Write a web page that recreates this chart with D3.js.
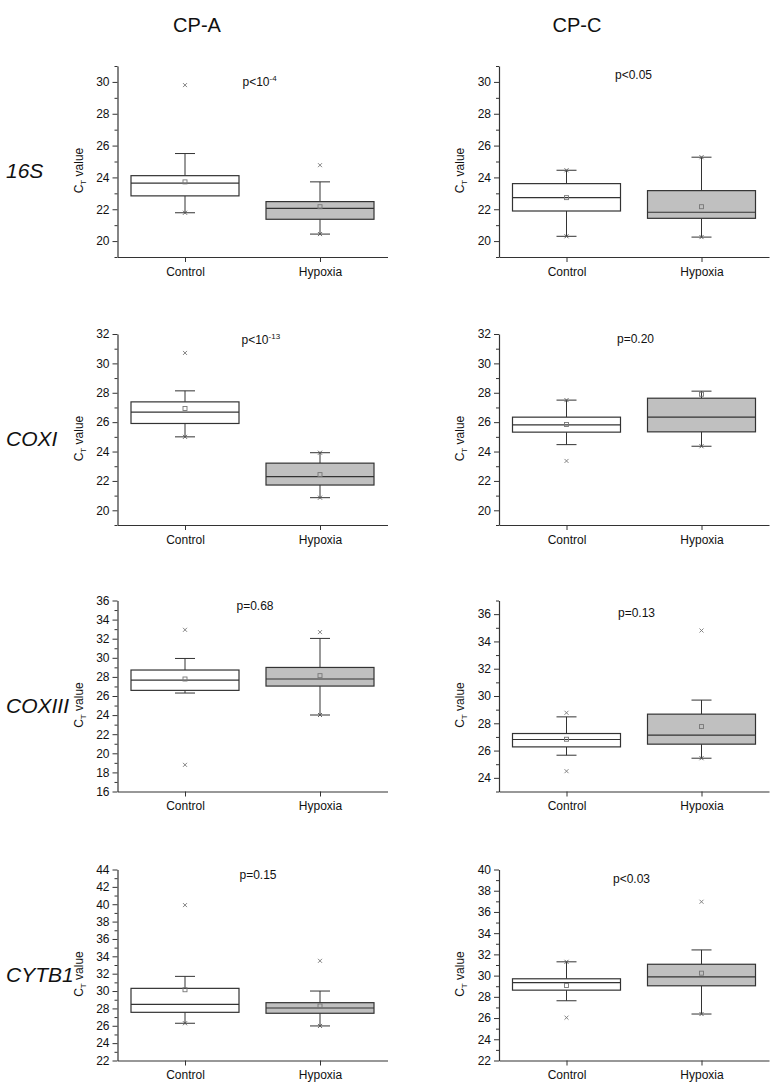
<!DOCTYPE html>
<html>
<head>
<meta charset="utf-8">
<script src="https://cdn.jsdelivr.net/npm/d3@7"></script>
<style>
  html, body { margin: 0; padding: 0; background: #fff; }
  svg { display: block; }
  text { font-family: "Liberation Sans", Arial, sans-serif; fill: #111; }
</style>
</head>
<body>
<svg id="chart" width="773" height="1087"></svg>
<script>
// ---------------- DATA ----------------
const columns = ["CP-A", "CP-C"];
const genes = ["16S", "COXI", "COXIII", "CYTB1"];
const categories = ["Control", "Hypoxia"];

// panel order: row-major (16S CP-A, 16S CP-C, COXI CP-A, COXI CP-C, ...)
const pTexts = ["p<10^-4", "p<0.05", "p<10^-13", "p=0.20", "p=0.68", "p=0.13", "p=0.15", "p<0.03"];

const yDomains = [[19, 31], [19, 31], [19, 32], [19, 32], [16, 36], [23, 37], [22, 44], [22, 40]];

// each entry: [Control, Hypoxia]
const whiskerLow  = [[21.78, 20.44], [20.30, 20.25], [25.00, 20.86], [24.47, 24.36], [26.31, 24.01], [25.66, 25.44], [26.29, 25.98], [27.63, 26.38]];
const quartile1   = [[22.84, 21.37], [21.89, 21.43], [25.91, 21.72], [25.32, 25.34], [26.59, 27.04], [26.27, 26.47], [27.55, 27.44], [28.63, 29.04]];
const medians     = [[23.64, 22.06], [22.73, 21.81], [26.68, 22.29], [25.81, 26.34], [27.67, 27.78], [26.81, 27.13], [28.47, 28.05], [29.33, 29.89]];
const quartile3   = [[24.11, 22.48], [23.61, 23.17], [27.38, 23.21], [26.34, 27.63], [28.72, 28.99], [27.25, 28.67], [30.31, 28.66], [29.70, 31.07]];
const whiskerHigh = [[25.50, 23.72], [24.45, 25.27], [28.13, 23.92], [27.50, 28.11], [29.93, 32.03], [28.47, 29.70], [31.69, 30.00], [31.30, 32.42]];
const means       = [[23.72, 22.16], [22.73, 22.16], [26.93, 22.43], [25.84, 27.90], [27.78, 28.13], [26.83, 27.76], [30.15, 28.28], [29.07, 30.23]];
const outliers    = [[[29.80], [24.77]], [[], []], [[30.71], []], [[23.36], []],
                     [[32.93, 18.79], [32.69]], [[28.77, 24.49], [34.80]], [[39.90], [33.48]], [[26.04], [36.96]]];
// extreme-value markers that sit on whisker ends
const extremes    = [[[21.78], [20.44]], [[24.45, 20.30], [25.27, 20.25]], [[25.00], [23.92, 20.86]], [[27.50], [24.36]],
                     [[], [24.01]], [[], [25.44]], [[26.29], [25.98]], [[31.30], [26.38]]];

// ---------------- LAYOUT ----------------
const colLeft = [117.5, 499];
const rowTop = [66, 334, 600.5, 869.5];
const plotW = 270, plotH = 191;
const boxFill = ["#ffffff", "#c0c0c0"];
const pOffset = [[125, 20], [116, 13], [124, 10], [118, 9], [119, 9], [119, 16], [122, 9], [114, 13]];

const svg = d3.select("#chart");
svg.append("rect").attr("width", 773).attr("height", 1087).attr("fill", "#fff");

// column headers
columns.forEach((c, ci) => {
  svg.append("text")
    .attr("x", [197, 577][ci]).attr("y", 32)
    .attr("text-anchor", "middle")
    .style("font-family", "'Liberation Sans Narrow', 'Arial Narrow', 'Liberation Sans', sans-serif")
    .style("font-size", "20px")
    .text(c);
});

// row labels
genes.forEach((g, ri) => {
  svg.append("text")
    .attr("x", 6).attr("y", rowTop[ri] + 112)
    .style("font-size", "21px").style("font-style", "italic")
    .text(g);
});

function addRichText(sel, str, baseSize, supSize) {
  const parts = str.split("^");
  sel.append("tspan").style("font-size", baseSize + "px").text(parts[0]);
  if (parts[1]) {
    sel.append("tspan").attr("dy", -5).style("font-size", supSize + "px").text(parts[1]);
  }
}

function cross(g, cx, cy, s, color) {
  g.append("path").attr("d", `M${cx - s},${cy - s}L${cx + s},${cy + s}M${cx - s},${cy + s}L${cx + s},${cy - s}`)
    .attr("stroke", color).attr("stroke-width", 0.9).attr("fill", "none");
}

for (let p = 0; p < 8; p++) {
  const ri = Math.floor(p / 2), ci = p % 2;
  const g = svg.append("g").attr("transform", `translate(${colLeft[ci]},${rowTop[ri]})`);
  const x = d3.scaleLinear().domain([0.5, 2.5]).range([0, plotW]);
  const y = d3.scaleLinear().domain(yDomains[p]).range([plotH, 0]);
  const [d0, d1] = yDomains[p];
  const major = d3.range(Math.ceil(d0 / 2) * 2, d1 + 0.001, 2);
  const minor = d3.range(d0, d1 + 0.001, 1).filter(v => v % 2 !== 0);

  // y axis minor
  const yMinor = g.append("g").call(d3.axisLeft(y).tickValues(minor).tickSize(3).tickFormat("").tickSizeOuter(0));
  yMinor.select(".domain").remove();
  yMinor.selectAll("line").attr("stroke", "#333");
  // y axis major
  const yAx = g.append("g").call(d3.axisLeft(y).tickValues(major).tickSize(5).tickPadding(3).tickSizeOuter(0));
  yAx.selectAll("text").style("font-size", "12px").style("font-family", "'Liberation Sans', Arial, sans-serif").attr("fill", "#111");
  yAx.selectAll("line").attr("stroke", "#333");
  yAx.select(".domain").attr("stroke", "#333").attr("stroke-width", 1.2);

  // x axis
  const xAx = g.append("g").attr("transform", `translate(0,${plotH})`)
    .call(d3.axisBottom(x).tickValues([1, 2]).tickFormat(i => categories[i - 1]).tickSize(5).tickPadding(5).tickSizeOuter(0));
  xAx.selectAll("text").style("font-size", "12px").style("font-family", "'Liberation Sans', Arial, sans-serif").attr("fill", "#111");
  xAx.selectAll("line").attr("stroke", "#333");
  xAx.select(".domain").attr("stroke", "#333").attr("stroke-width", 1.2);

  // y label
  const yl = g.append("text")
    .attr("transform", `translate(-35,${plotH / 2 + 9}) rotate(-90)`)
    .attr("text-anchor", "middle")
    .style("font-size", "12px");
  yl.append("tspan").text("C");
  yl.append("tspan").attr("dy", 3).style("font-size", "8px").text("T");
  yl.append("tspan").attr("dy", -3).text(" value");

  // p label
  const pt = g.append("text").attr("x", pOffset[p][0]).attr("y", pOffset[p][1]);
  addRichText(pt, pTexts[p], 12, 8);

  // boxes
  categories.forEach((cat, k) => {
    const cx = x(k + 1);
    const bx0 = x(k + 1 - 0.4), bx1 = x(k + 1 + 0.4);
    const capHalf = 10;
    const stroke = "#333";
    // whiskers
    g.append("line").attr("x1", cx).attr("x2", cx).attr("y1", y(quartile3[p][k])).attr("y2", y(whiskerHigh[p][k])).attr("stroke", stroke);
    g.append("line").attr("x1", cx).attr("x2", cx).attr("y1", y(quartile1[p][k])).attr("y2", y(whiskerLow[p][k])).attr("stroke", stroke);
    g.append("line").attr("x1", cx - capHalf).attr("x2", cx + capHalf).attr("y1", y(whiskerHigh[p][k])).attr("y2", y(whiskerHigh[p][k])).attr("stroke", stroke);
    g.append("line").attr("x1", cx - capHalf).attr("x2", cx + capHalf).attr("y1", y(whiskerLow[p][k])).attr("y2", y(whiskerLow[p][k])).attr("stroke", stroke);
    // box
    g.append("rect")
      .attr("x", bx0).attr("width", bx1 - bx0)
      .attr("y", y(quartile3[p][k])).attr("height", y(quartile1[p][k]) - y(quartile3[p][k]))
      .attr("fill", boxFill[k]).attr("stroke", stroke).attr("stroke-width", 1.2);
    // median
    g.append("line").attr("x1", bx0).attr("x2", bx1).attr("y1", y(medians[p][k])).attr("y2", y(medians[p][k]))
      .attr("stroke", stroke).attr("stroke-width", 1.2);
    // mean
    g.append("rect").attr("x", cx - 2).attr("y", y(means[p][k]) - 2).attr("width", 4).attr("height", 4)
      .attr("fill", "none").attr("stroke", "#777").attr("stroke-width", 0.9);
    // outliers
    outliers[p][k].forEach(v => cross(g, cx, y(v), 2, "#777"));
    // extremes on whisker ends
    extremes[p][k].forEach(v => cross(g, cx, y(v), 2, "#555"));
  });
}
</script>
</body>
</html>
